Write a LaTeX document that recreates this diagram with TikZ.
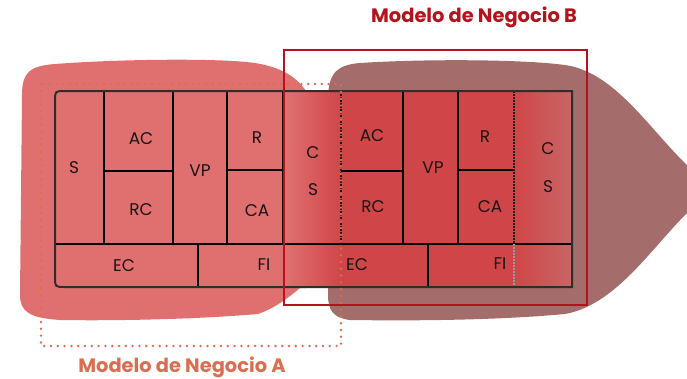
\documentclass[tikz,border=0pt]{standalone}
\usepackage{fontspec}
\setmainfont{Poppins}
\definecolor{pinkA}{RGB}{224,112,112}
\definecolor{blobB}{RGB}{164,108,106}
\definecolor{redB}{RGB}{208,70,72}
\definecolor{mutedB}{RGB}{200,102,102}
\definecolor{redline}{RGB}{180,18,28}
\definecolor{orangeA}{RGB}{218,110,82}
\definecolor{outl}{RGB}{50,45,45}
\definecolor{lbltext}{RGB}{25,20,20}
\begin{document}
\begin{tikzpicture}[x=1bp,y=-1bp,
  lbl/.style={font=\fontsize{17}{17}\selectfont, text=lbltext, inner sep=0pt},
  ttl/.style={font=\fontsize{19.5}{20}\selectfont\bfseries, inner sep=0pt},
  div/.style={line width=2bp, draw=black},
  dots/.style={line width=1.5bp, draw=black!90, dash pattern=on 1.5bp off 1.5bp}]
\useasboundingbox (0,0) rectangle (687,378);
% blobs
\fill[pinkA] (22,95) .. controls (22,72) and (30,66) .. (55,64)
  .. controls (120,59) and (220,58) .. (255,63)
  .. controls (280,67) and (296,76) .. (306,91) -- (306,288)
  -- (300,288) .. controls (288,298) and (275,308) .. (258,314)
  .. controls (200,319) and (120,321) .. (60,320)
  .. controls (30,318) and (20,312) .. (20,295) -- cycle;
\fill[blobB] (328,100) .. controls (328,75) and (335,65) .. (360,63)
  .. controls (420,59) and (520,59) .. (565,65)
  .. controls (615,72) and (650,130) .. (687,165) -- (687,213)
  .. controls (650,250) and (615,305) .. (565,314)
  .. controls (500,320) and (420,321) .. (350,320)
  .. controls (333,318) and (328,310) .. (328,295) -- cycle;
% canvas fills
\fill[pinkA] (285,91) -- (65,91) .. controls (55,91) .. (55,101) -- (55,277)
  .. controls (55,287) .. (65,287) -- (285,287) -- cycle;
\shade[left color=pinkA, right color=redB] (285,91) rectangle (341,287);
\fill[redB] (341,91) rectangle (514,287);
\shade[left color=redB, right color=mutedB] (514,91) rectangle (572,287);
% dividers
\draw[div] (55,244) -- (572,244);
\draw[div] (104,91) -- (104,244);
\draw[div] (173,91) -- (173,244);
\draw[div] (227,91) -- (227,244);
\draw[div] (283,91) -- (283,244);
\draw[div] (104,171) -- (173,171);
\draw[div] (227,170) -- (283,170);
\draw[div] (403,91) -- (403,244);
\draw[div] (458,91) -- (458,244);
\draw[div] (341,171) -- (403,171);
\draw[div] (458,170) -- (514,170);
\draw[div] (198,244) -- (198,287);
\draw[div] (428,244) -- (428,287);
\draw[dots] (341,91) -- (341,244);
\draw[dots] (514,91) -- (514,244);
\draw[dots, draw=black!40] (514,244) -- (514,287);
% outline
\draw[line width=2bp, draw=outl] (572,91) -- (65,91) .. controls (55,91) .. (55,101)
  -- (55,277) .. controls (55,287) .. (65,287) -- (572,287) -- cycle;
% labels
\node[lbl] (sA) at (74,168) {S};
\node[lbl] (acA) at (141,139) {AC};
\node[lbl] (rcA) at (141,210) {RC};
\node[lbl] (vpA) at (200,171) {VP};
\node[lbl] (rA) at (257,138) {R};
\node[lbl] (caA) at (257,211) {CA};
\node[lbl] (cA) at (313,153) {C};
\node[lbl] (s2A) at (313,190) {S};
\node[lbl] (acB) at (372,136) {AC};
\node[lbl] (rcB) at (373,207) {RC};
\node[lbl] (vpB) at (433,168) {VP};
\node[lbl] (rB) at (485,137) {R};
\node[lbl] (caB) at (490,207) {CA};
\node[lbl] (cB) at (548,149) {C};
\node[lbl] (sB) at (548,187) {S};
\node[lbl] (ecA) at (124,266) {EC};
\node[lbl] (fiA) at (264,265) {FI};
\node[lbl] (ecB) at (357,265) {EC};
\node[lbl] (fiB) at (500,264) {FI};
% frames
\draw[redline, line width=2bp] (284,50) rectangle (587,305);
\draw[orangeA, line width=2.7bp, line cap=round, dash pattern=on 0bp off 6.8bp] (41,84) rectangle (341,346);
% titles
\node[ttl, text=redline] (tB) at (474,17) {Modelo de Negocio B};
\node[ttl, text=orangeA] (tA) at (182,367) {Modelo de Negocio A};
\end{tikzpicture}
\end{document}
